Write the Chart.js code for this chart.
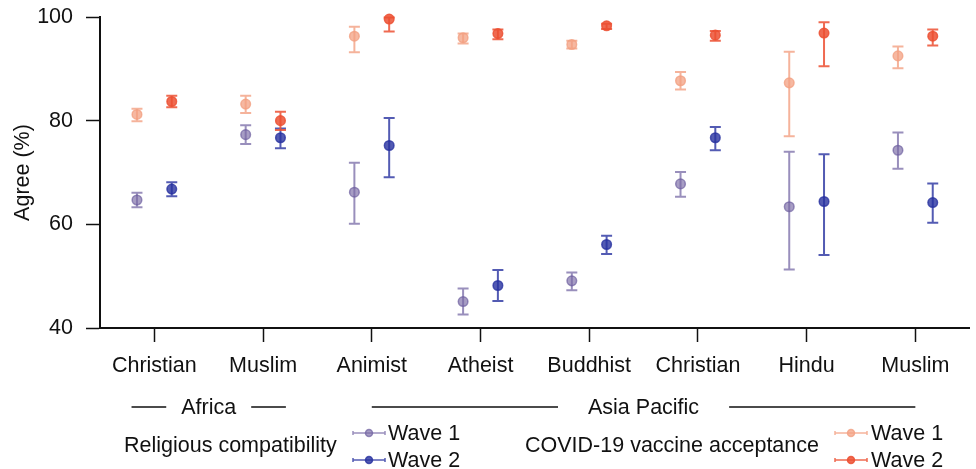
<!DOCTYPE html>
<html>
<head>
<meta charset="utf-8">
<script src="https://cdn.jsdelivr.net/npm/chart.js@4/dist/chart.umd.min.js"></script>
<style>
  html, body { margin: 0; padding: 0; background: #fff; }
  #wrap { width: 976px; height: 469px; }
</style>
</head>
<body>
<div id="wrap"><canvas id="myChart" width="976" height="469"></canvas></div>
<script>
const CATEGORIES = ['Christian', 'Muslim', 'Animist', 'Atheist', 'Buddhist', 'Christian', 'Hindu', 'Muslim'];
const Y_TICKS = [40, 60, 80, 100];

// religious compatibility
const RC_WAVE1 = [64.7, 77.3, 66.2, 45.1, 49.1, 67.8, 63.4, 74.3];
const RC_WAVE1_LO = [63.3, 75.5, 60.1, 42.6, 47.3, 65.3, 51.3, 70.7];
const RC_WAVE1_HI = [66.1, 79.1, 71.9, 47.6, 50.7, 70.1, 74.0, 77.7];
const RC_WAVE2 = [66.8, 76.7, 75.2, 48.2, 56.1, 76.7, 64.4, 64.2];
const RC_WAVE2_LO = [65.4, 74.7, 69.1, 45.2, 54.3, 74.3, 54.1, 60.3];
const RC_WAVE2_HI = [68.1, 78.5, 80.5, 51.2, 57.8, 78.8, 73.5, 67.9];

// covid-19 vaccine acceptance
const CV_WAVE1 = [81.2, 83.2, 96.3, 96.0, 94.7, 87.7, 87.3, 92.5];
const CV_WAVE1_LO = [79.9, 81.5, 93.2, 94.9, 93.9, 86.0, 77.0, 90.1];
const CV_WAVE1_HI = [82.3, 84.8, 98.1, 96.8, 95.4, 89.4, 93.3, 94.3];
const CV_WAVE2 = [83.7, 80.0, 99.6, 96.8, 98.3, 96.5, 96.9, 96.3];
const CV_WAVE2_LO = [82.6, 78.2, 97.2, 95.7, 97.7, 95.4, 90.5, 94.5];
const CV_WAVE2_HI = [84.8, 81.7, 99.9, 97.6, 98.7, 97.3, 99.0, 97.6];

// region groups: [label, first category, last category]
const REGIONS = [['Africa', 0, 1], ['Asia Pacific', 2, 7]];

const FONT = 'Liberation Sans, Arial, sans-serif';
const WAVE_SHIFT = 0.16;

const COLORS = {
  rc1: { fill: 'rgba(120,105,165,0.65)', line: 'rgba(110,95,160,0.7)' },
  rc2: { fill: 'rgba(40,50,160,0.8)', line: 'rgba(40,50,160,0.8)' },
  cv1: { fill: 'rgba(243,160,130,0.75)', line: 'rgba(243,160,130,0.8)' },
  cv2: { fill: 'rgba(236,80,50,0.85)', line: 'rgba(236,80,50,0.85)' },
};

function makeSeries(values, lo, hi, shift, color, label) {
  return {
    label: label,
    data: values.map((v, i) => ({ x: i + shift, y: v })),
    lo: lo,
    hi: hi,
    backgroundColor: color.fill,
    borderColor: color.line,
    borderWidth: 1.5,
    pointRadius: 4.8,
    pointHoverRadius: 4.8,
    showLine: false,
    clip: false,
  };
}

const errorBars = {
  id: 'errorBars',
  beforeDatasetsDraw(chart) {
    const ctx = chart.ctx;
    const y = chart.scales.y;
    chart.data.datasets.forEach((ds, di) => {
      const meta = chart.getDatasetMeta(di);
      ctx.save();
      ctx.strokeStyle = ds.borderColor;
      ctx.lineWidth = 2;
      meta.data.forEach((pt, i) => {
        const top = y.getPixelForValue(ds.hi[i]);
        const bot = y.getPixelForValue(ds.lo[i]);
        ctx.beginPath();
        ctx.moveTo(pt.x, top);
        ctx.lineTo(pt.x, bot);
        ctx.moveTo(pt.x - 5.5, top);
        ctx.lineTo(pt.x + 5.5, top);
        ctx.moveTo(pt.x - 5.5, bot);
        ctx.lineTo(pt.x + 5.5, bot);
        ctx.stroke();
      });
      ctx.restore();
    });
  },
};

function drawMarker(ctx, x, y, color) {
  ctx.save();
  ctx.strokeStyle = color.line;
  ctx.fillStyle = color.fill;
  ctx.lineWidth = 1.5;
  ctx.beginPath();
  ctx.moveTo(x, y);
  ctx.lineTo(x + 32, y);
  ctx.moveTo(x, y - 2);
  ctx.lineTo(x, y + 2);
  ctx.moveTo(x + 32, y - 2);
  ctx.lineTo(x + 32, y + 2);
  ctx.stroke();
  ctx.beginPath();
  ctx.arc(x + 16, y, 3.5, 0, Math.PI * 2);
  ctx.fill();
  ctx.stroke();
  ctx.restore();
}

const bottomLabels = {
  id: 'bottomLabels',
  afterDraw(chart) {
    const ctx = chart.ctx;
    const x = chart.scales.x;
    ctx.save();
    ctx.font = '21.5px ' + FONT;
    ctx.fillStyle = '#111';
    ctx.strokeStyle = '#111';
    ctx.lineWidth = 1.5;
    ctx.textBaseline = 'middle';
    ctx.textAlign = 'center';

    // region brackets
    const lineY = 407;
    REGIONS.forEach(([name, a, b]) => {
      const pad = b - a > 1 ? 0 : 0.21;
      const gap = b - a > 1 ? 30 : 15;
      const left = x.getPixelForValue(a - pad);
      const right = x.getPixelForValue(b + pad);
      const mid = (x.getPixelForValue(a) + x.getPixelForValue(b)) / 2;
      const w = ctx.measureText(name).width;
      ctx.fillText(name, mid, lineY + 1);
      ctx.beginPath();
      ctx.moveTo(left, lineY);
      ctx.lineTo(mid - w / 2 - gap, lineY);
      ctx.moveTo(mid + w / 2 + gap, lineY);
      ctx.lineTo(right, lineY);
      ctx.stroke();
    });

    // legend
    ctx.textAlign = 'left';
    ctx.fillText('Religious compatibility', 124, 446);
    ctx.fillText('COVID-19 vaccine acceptance', 525, 446);
    ctx.fillText('Wave 1', 388, 434);
    ctx.fillText('Wave 2', 388, 461);
    ctx.fillText('Wave 1', 871, 434);
    ctx.fillText('Wave 2', 871, 461);
    ctx.restore();
    drawMarker(ctx, 353, 433, COLORS.rc1);
    drawMarker(ctx, 353, 460, COLORS.rc2);
    drawMarker(ctx, 835, 433, COLORS.cv1);
    drawMarker(ctx, 835, 460, COLORS.cv2);
  },
};

Chart.defaults.font.family = FONT;
Chart.defaults.color = '#111';

const CHART = document.getElementById('myChart').getContext('2d');

let agreeChart = new Chart(CHART, {
  type: 'scatter',
  data: {
    datasets: [
      makeSeries(RC_WAVE1, RC_WAVE1_LO, RC_WAVE1_HI, -WAVE_SHIFT, COLORS.rc1, 'RC Wave 1'),
      makeSeries(RC_WAVE2, RC_WAVE2_LO, RC_WAVE2_HI, WAVE_SHIFT, COLORS.rc2, 'RC Wave 2'),
      makeSeries(CV_WAVE1, CV_WAVE1_LO, CV_WAVE1_HI, -WAVE_SHIFT, COLORS.cv1, 'CV Wave 1'),
      makeSeries(CV_WAVE2, CV_WAVE2_LO, CV_WAVE2_HI, WAVE_SHIFT, COLORS.cv2, 'CV Wave 2'),
    ],
  },
  options: {
    responsive: false,
    animation: false,
    events: [],
    layout: { padding: { top: 17, right: 6, left: 0, bottom: 0 } },
    plugins: {
      legend: { display: false },
      tooltip: { enabled: false },
    },
    scales: {
      x: {
        type: 'linear',
        min: -0.5,
        max: 7.5,
        afterBuildTicks: (scale) => {
          scale.ticks = CATEGORIES.map((c, i) => ({ value: i }));
        },
        afterFit: (scale) => {
          scale.height = 141;
          scale.paddingLeft = 0;
          scale.paddingRight = 0;
        },
        ticks: {
          callback: (value) => CATEGORIES[value],
          font: { size: 21.5 },
          padding: 11,
          maxRotation: 0,
          autoSkip: false,
          color: '#111',
        },
        grid: {
          drawOnChartArea: false,
          tickLength: 14,
          tickWidth: 1.5,
          tickColor: '#111',
        },
        border: { color: '#111', width: 2 },
      },
      y: {
        min: 40,
        max: 100,
        afterBuildTicks: (scale) => {
          scale.ticks = Y_TICKS.map((v) => ({ value: v }));
        },
        afterFit: (scale) => {
          scale.width = 100;
          scale.paddingTop = 0;
          scale.paddingBottom = 0;
        },
        ticks: {
          font: { size: 21.5 },
          padding: 13,
          color: '#111',
        },
        grid: {
          drawOnChartArea: false,
          tickLength: 14,
          tickWidth: 1.5,
          tickColor: '#111',
        },
        border: { color: '#111', width: 2 },
        title: {
          display: true,
          text: 'Agree (%)',
          font: { size: 21.5 },
          color: '#111',
          padding: { top: 10, bottom: 0 },
        },
      },
    },
  },
  plugins: [errorBars, bottomLabels],
});
</script>
</body>
</html>
